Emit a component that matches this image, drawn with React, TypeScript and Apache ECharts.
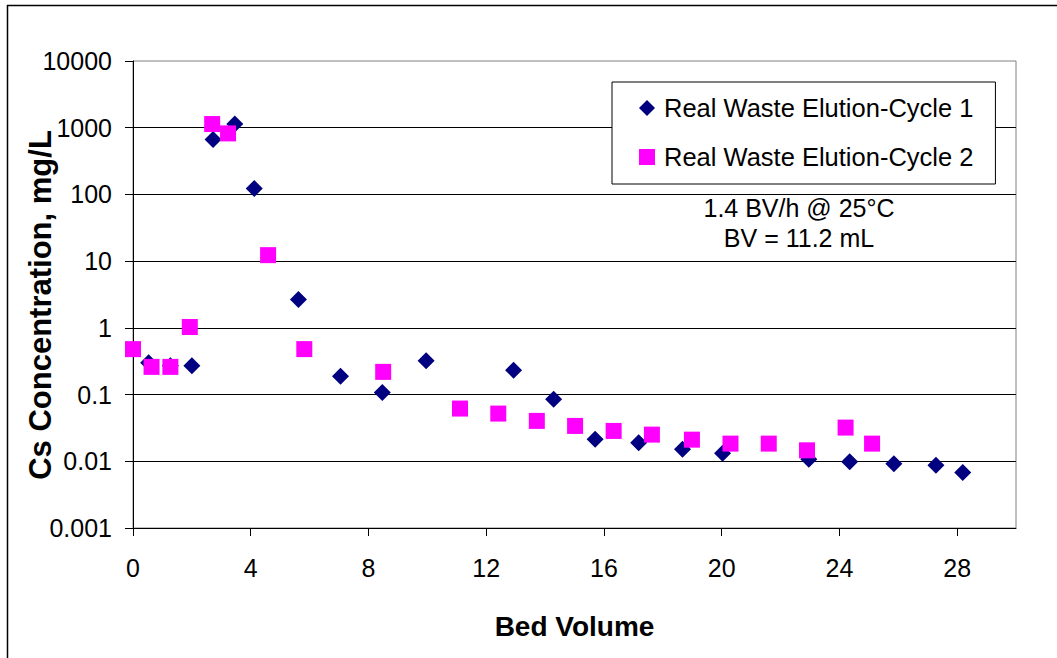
import React, { useEffect, useRef } from "react";
import * as echarts from "echarts";

const cycle1X = [0.53, 1.27, 2.0, 2.72, 3.46, 4.12, 5.62, 7.05, 8.47, 9.96, 12.93, 14.29, 15.7, 17.18, 18.67, 20.03, 22.96, 24.35, 25.85, 27.28, 28.19];
const cycle1Y = [0.3, 0.27, 0.27, 668, 1135, 123, 2.67, 0.188, 0.107, 0.32, 0.232, 0.085, 0.0214, 0.019, 0.0151, 0.0132, 0.0107, 0.0098, 0.0092, 0.0087, 0.0068];

const cycle2X = [0.0, 0.63, 1.27, 1.93, 2.69, 3.23, 4.59, 5.82, 8.5, 11.11, 12.41, 13.72, 15.02, 16.33, 17.63, 18.99, 20.3, 21.6, 22.9, 24.21, 25.11];
const cycle2Y = [0.48, 0.26, 0.26, 1.03, 1135, 822, 12.3, 0.48, 0.219, 0.0617, 0.0519, 0.0403, 0.0339, 0.0285, 0.0251, 0.0211, 0.0184, 0.0184, 0.0146, 0.032, 0.0184];

const xTicks = [0, 4, 8, 12, 16, 20, 24, 28];
const yTickLabels = ["0.001", "0.01", "0.1", "1", "10", "100", "1000", "10000"];

const seriesNames = ["Real Waste Elution-Cycle 1", "Real Waste Elution-Cycle 2"];
const annotationLines = ["1.4 BV/h @ 25°C", "BV = 11.2 mL"];
const yTitle = "Cs Concentration, mg/L";
const xTitle = "Bed Volume";

const FONT = "'Liberation Sans', Arial, sans-serif";

export default function App() {
  const ref = useRef<HTMLDivElement>(null);

  useEffect(() => {
    if (!ref.current) return;
    const chart = echarts.init(ref.current, undefined, { renderer: "svg" });
    const pts = (xs: number[], ys: number[]) => xs.map((x, i) => [x, ys[i]]);

    chart.setOption({
      animation: false,
      backgroundColor: "#fff",
      textStyle: { fontFamily: FONT },
      grid: {
        left: 133,
        top: 61,
        right: 41,
        bottom: 130,
        show: true,
        borderColor: "#808080",
        borderWidth: 1,
        backgroundColor: "transparent",
      },
      xAxis: {
        type: "value",
        min: 0,
        max: 30,
        interval: 4,
        name: xTitle,
        nameLocation: "middle",
        nameGap: 84,
        nameTextStyle: { fontSize: 28, fontWeight: "bold", color: "#000", fontFamily: FONT },
        axisLine: { show: true, onZero: false, lineStyle: { color: "#000", width: 1 } },
        axisTick: { show: true, length: 8, inside: false, lineStyle: { color: "#000" }, customValues: xTicks },
        axisLabel: { fontSize: 25, color: "#000", margin: 27, fontFamily: FONT, customValues: xTicks },
        splitLine: { show: false },
      },
      yAxis: {
        type: "log",
        logBase: 10,
        min: 0.001,
        max: 10000,
        axisLine: { show: true, lineStyle: { color: "#000", width: 1 } },
        axisTick: { show: true, length: 8, lineStyle: { color: "#000" } },
        axisLabel: {
          fontSize: 25,
          color: "#000",
          margin: 21,
          fontFamily: FONT,
          formatter: (v: number) => {
            const e = Math.round(Math.log10(v));
            return yTickLabels[e + 3] ?? "";
          },
        },
        splitLine: { show: true, showMinLine: false, showMaxLine: false, lineStyle: { color: "#000", width: 1 } },
        minorTick: { show: false },
      },
      legend: {
        show: true,
        orient: "vertical",
        left: 612,
        top: 82,
        backgroundColor: "#fff",
        borderColor: "#000",
        borderWidth: 1,
        padding: [12, 22, 13, 27],
        itemGap: 21,
        itemWidth: 16,
        itemHeight: 16,
        textStyle: { fontSize: 25.5, color: "#000", fontFamily: FONT, lineHeight: 28, padding: [0, 0, 0, 4] },
        data: [
          { name: seriesNames[0], icon: "diamond" },
          { name: seriesNames[1], icon: "rect" },
        ],
      },
      graphic: [
        {
          type: "text",
          x: 799,
          y: 193,
          style: {
            text: annotationLines.join("\n"),
            lineHeight: 30,
            fill: "#000",
            font: `25px ${FONT}`,
            align: "center",
            verticalAlign: "top",
          },
        },
        {
          type: "text",
          x: 40,
          y: 305,
          rotation: Math.PI / 2,
          style: {
            text: yTitle,
            fill: "#000",
            font: `bold 31px ${FONT}`,
            align: "center",
            verticalAlign: "middle",
          },
        },
        {
          type: "line",
          shape: { x1: 7.5, y1: 5, x2: 7.5, y2: 658 },
          style: { stroke: "#000", lineWidth: 1.5 },
        },
        {
          type: "line",
          shape: { x1: 7, y1: 5.5, x2: 1057, y2: 5.5 },
          style: { stroke: "#000", lineWidth: 1.5 },
        },
      ],
      series: [
        {
          name: seriesNames[0],
          type: "scatter",
          symbol: "diamond",
          symbolSize: 17,
          itemStyle: { color: "#000080", opacity: 1 },
          data: pts(cycle1X, cycle1Y),
          z: 2,
        },
        {
          name: seriesNames[1],
          type: "scatter",
          symbol: "rect",
          symbolSize: 16,
          itemStyle: { color: "#FF00FF", opacity: 1 },
          data: pts(cycle2X, cycle2Y),
          z: 3,
        },
      ],
    });
    return () => chart.dispose();
  }, []);

  return (
    <div
      ref={ref}
      style={{ position: "absolute", left: 0, top: 0, width: 1057, height: 658, background: "#fff" }}
    />
  );
}
